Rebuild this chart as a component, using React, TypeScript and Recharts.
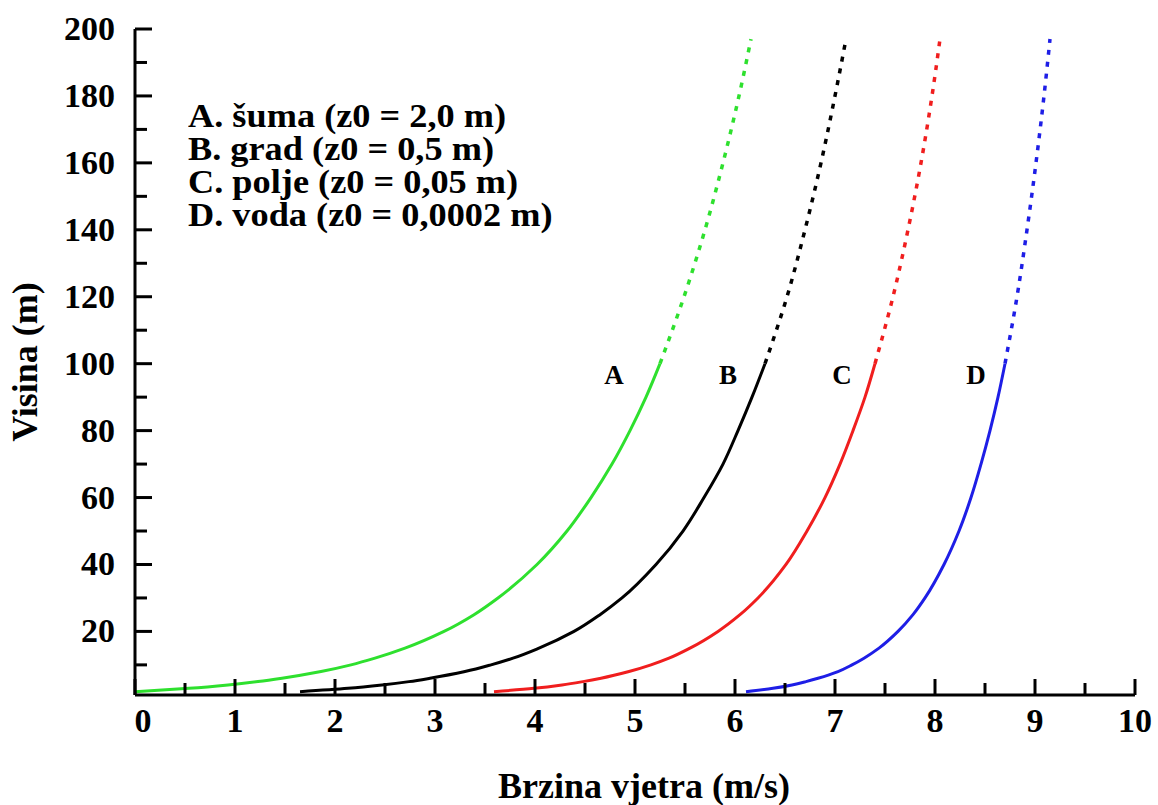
import React from 'react'
import { LineChart, Line, XAxis, YAxis, ReferenceDot } from 'recharts'

// visine (m) za koje su ocitane brzine
const HEIGHTS_LOW = [2, 3, 4, 5, 6, 8, 10, 12, 15, 20, 25, 30, 40, 50, 60, 70, 80, 90, 100]
const HEIGHTS_HIGH = [100, 120, 140, 160, 180, 197]

// brzine (m/s) ocitane s krivulja
const SPEED_A_LOW = [0, 0.54, 0.93, 1.23, 1.47, 1.86, 2.16, 2.4, 2.7, 3.09, 3.39, 3.63, 4.02, 4.32, 4.56, 4.77, 4.95, 5.11, 5.25]
const SPEED_A_HIGH = [5.25, 5.49, 5.7, 5.88, 6.04, 6.16]
const SPEED_B_LOW = [1.65, 2.13, 2.47, 2.74, 2.95, 3.3, 3.56, 3.78, 4.04, 4.39, 4.65, 4.87, 5.21, 5.48, 5.69, 5.88, 6.03, 6.17, 6.3]
const SPEED_B_HIGH = [6.3, 6.52, 6.7, 6.86, 7.0, 7.11]
const SPEED_C_LOW = [3.59, 3.99, 4.27, 4.48, 4.66, 4.94, 5.16, 5.34, 5.55, 5.83, 6.05, 6.23, 6.51, 6.72, 6.9, 7.05, 7.18, 7.3, 7.4]
const SPEED_C_HIGH = [7.4, 7.58, 7.73, 7.86, 7.97, 8.05]
const SPEED_D_LOW = [6.11, 6.38, 6.57, 6.71, 6.83, 7.03, 7.17, 7.29, 7.44, 7.63, 7.78, 7.9, 8.09, 8.24, 8.36, 8.46, 8.55, 8.63, 8.7]
const SPEED_D_HIGH = [8.7, 8.82, 8.92, 9.01, 9.09, 9.15]

const CURVE_NAMES = ['A', 'B', 'C', 'D']
const CURVE_COLORS = ['#2ee02e', '#000000', '#f01e1e', '#1e1ee6']
const LEGEND_LINES = [
  'A. šuma (z0 = 2,0 m)',
  'B. grad (z0 = 0,5 m)',
  'C. polje (z0 = 0,05 m)',
  'D. voda (z0 = 0,0002 m)',
]
// polozaj slova uz krivulje
const LABEL_U = [4.79, 5.93, 7.07, 8.41]
const LABEL_Z = 97

const X_TICKS = [0, 0.5, 1, 1.5, 2, 2.5, 3, 3.5, 4, 4.5, 5, 5.5, 6, 6.5, 7, 7.5, 8, 8.5, 9, 9.5, 10]
const X_TOP_TICKS = [0, 1, 2, 3, 4, 5, 6, 7, 8, 9, 10]
const Y_TICKS = [10, 20, 30, 40, 50, 60, 70, 80, 90, 100, 110, 120, 130, 140, 150, 160, 170, 180, 190, 200]
const Y_RIGHT_TICKS = [20, 40, 60, 80, 100, 120, 140, 160, 180, 200]

const FONT = '"Liberation Serif", "Times New Roman", serif'

const toPoints = (us: number[], zs: number[]) => us.map((u, i) => ({ u, z: zs[i] }))

const curves = [
  { low: SPEED_A_LOW, high: SPEED_A_HIGH },
  { low: SPEED_B_LOW, high: SPEED_B_HIGH },
  { low: SPEED_C_LOW, high: SPEED_C_HIGH },
  { low: SPEED_D_LOW, high: SPEED_D_HIGH },
]

function BottomTick({ x, y, payload }: any) {
  const v = payload.value
  const major = Number.isInteger(v)
  return (
    <g>
      <line x1={x} x2={x} y1={y} y2={y - (major ? 16 : 12)} stroke="#000" strokeWidth={3} />
      {major && (
        <text x={x + (v === 0 ? 8 : 0)} y={y + 37} textAnchor="middle" fontFamily={FONT} fontWeight={700} fontSize={34} fill="#000">
          {v}
        </text>
      )}
    </g>
  )
}

function TopTick({ x, y }: any) {
  return <line x1={x} x2={x} y1={y} y2={y + 15} stroke="#000" strokeWidth={3} />
}

function LeftTick({ x, y, payload }: any) {
  const v = payload.value
  const major = v % 20 === 0
  return (
    <g>
      <line x1={x} x2={x + (major ? 17 : 12)} y1={y} y2={y} stroke="#000" strokeWidth={3} />
      {major && (
        <text x={x - 20} y={y + 11} textAnchor="end" fontFamily={FONT} fontWeight={700} fontSize={34} fill="#000">
          {v}
        </text>
      )}
    </g>
  )
}

function RightTick({ x, y }: any) {
  return <line x1={x} x2={x - 15} y1={y} y2={y} stroke="#000" strokeWidth={3} />
}

const axisLine = { stroke: '#000', strokeWidth: 3 }

export default function App() {
  return (
    <div style={{ position: 'absolute', left: 0, top: 0, width: 1158, height: 805, background: '#fff' }}>
      <LineChart width={1158} height={805} margin={{ top: 29, right: 23, bottom: 0, left: 0 }}>
        <XAxis
          type="number"
          dataKey="u"
          domain={[0, 10]}
          ticks={X_TICKS}
          interval={0}
          allowDataOverflow
          height={110}
          tickSize={0}
          tickMargin={0}
          tickLine={false}
          axisLine={axisLine}
          tick={<BottomTick />}
          label={{
            content: ({ viewBox }: any) => (
              <text
                x={viewBox.x + viewBox.width / 2 + 9}
                y={798}
                textAnchor="middle"
                fontFamily={FONT}
                fontWeight={700}
                fontSize={36}
                fill="#000"
              >
                Brzina vjetra (m/s)
              </text>
            ),
          }}
        />
        <XAxis
          xAxisId="top"
          orientation="top"
          type="number"
          dataKey="u"
          domain={[0, 10]}
          ticks={X_TOP_TICKS}
          interval={0}
          allowDataOverflow
          height={0}
          tickSize={0}
          tickMargin={0}
          tickLine={false}
          axisLine={axisLine}
          tick={<TopTick />}
        />
        <YAxis
          type="number"
          dataKey="z"
          domain={[1, 200]}
          ticks={Y_TICKS}
          interval={0}
          allowDataOverflow
          width={135}
          tickSize={0}
          tickMargin={0}
          tickLine={false}
          axisLine={axisLine}
          tick={<LeftTick />}
          label={{
            content: ({ viewBox }: any) => {
              const cy = viewBox.y + viewBox.height / 2
              return (
                <text
                  x={37}
                  y={cy}
                  transform={`rotate(-90, 37, ${cy})`}
                  textAnchor="middle"
                  fontFamily={FONT}
                  fontWeight={700}
                  fontSize={36}
                  fill="#000"
                >
                  Visina (m)
                </text>
              )
            },
          }}
        />
        <YAxis
          yAxisId="right"
          orientation="right"
          type="number"
          dataKey="z"
          domain={[1, 200]}
          ticks={Y_RIGHT_TICKS}
          interval={0}
          allowDataOverflow
          width={0}
          tickSize={0}
          tickMargin={0}
          tickLine={false}
          axisLine={axisLine}
          tick={<RightTick />}
        />

        {curves.map((c, i) => (
          <Line
            key={`low-${i}`}
            data={toPoints(c.low, HEIGHTS_LOW)}
            dataKey="z"
            type="monotoneY"
            stroke={CURVE_COLORS[i]}
            strokeWidth={3}
            dot={false}
            activeDot={false}
            isAnimationActive={false}
          />
        ))}
        {curves.map((c, i) => (
          <Line
            key={`high-${i}`}
            data={toPoints(c.high, HEIGHTS_HIGH)}
            dataKey="z"
            type="monotoneY"
            stroke={CURVE_COLORS[i]}
            strokeWidth={3.5}
            strokeDasharray="5 7"
            dot={false}
            activeDot={false}
            isAnimationActive={false}
          />
        ))}

        {CURVE_NAMES.map((name, i) => (
          <ReferenceDot
            key={name}
            x={LABEL_U[i]}
            y={LABEL_Z}
            r={0}
            fill="none"
            stroke="none"
            label={{
              content: ({ viewBox }: any) => (
                <text
                  x={viewBox.x + (viewBox.width || 0) / 2}
                  y={viewBox.y + (viewBox.height || 0) / 2 + 10}
                  textAnchor="middle"
                  fontFamily={FONT}
                  fontWeight={700}
                  fontSize={27}
                  fill="#000"
                >
                  {name}
                </text>
              ),
            }}
          />
        ))}
      </LineChart>

      <div
        style={{
          position: 'absolute',
          left: 188,
          top: 100,
          fontFamily: FONT,
          fontWeight: 700,
          fontSize: 33,
          lineHeight: '33px',
          color: '#000',
          whiteSpace: 'nowrap',
          transform: 'scaleX(1.1)',
          transformOrigin: 'left top',
        }}
      >
        {LEGEND_LINES.map(t => (
          <div key={t}>{t}</div>
        ))}
      </div>
    </div>
  )
}
